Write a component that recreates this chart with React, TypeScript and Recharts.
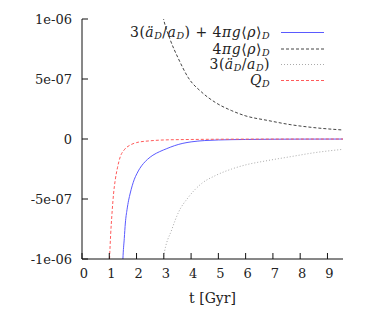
import React from 'react';
import { LineChart, Line, XAxis, YAxis, Legend } from 'recharts';

// x ticks / y ticks
const xTicks = [0, 1, 2, 3, 4, 5, 6, 7, 8, 9];
const yTicks = [-1e-6, -5e-7, 0, 5e-7, 1e-6];
const yTickLabels = ['-1e-06', '-5e-07', '0', '5e-07', '1e-06'];
const xLabel = 't [Gyr]';

// 3(ä/a) + 4πg<ρ>  (blue, solid)
const sumT = [1.47, 1.5, 1.55, 1.59, 1.65, 1.71, 1.77, 1.84, 1.92, 2.01, 2.12, 2.25, 2.4, 2.6, 2.85, 3.11, 3.4, 3.7, 4.0, 4.5, 5.0, 6.0, 7.0, 8.0, 9.57];
const sumV = [-1.2e-6, -1.0e-6, -8.3e-7, -7.0e-7, -5.9e-7, -5.1e-7, -4.5e-7, -3.9e-7, -3.35e-7, -2.9e-7, -2.45e-7, -2.05e-7, -1.7e-7, -1.35e-7, -1.05e-7, -8e-8, -5.5e-8, -3.6e-8, -2.4e-8, -1.3e-8, -8e-9, -4e-9, -2e-9, -1e-9, -5e-10];

// 4πg<ρ>  (black dashed)
const rhoT = [2.9, 2.99, 3.23, 3.54, 3.9, 4.39, 4.88, 5.49, 5.98, 6.8, 7.63, 8.5, 9.57];
const rhoV = [1.1e-6, 1.0e-6, 8.3e-7, 6.67e-7, 5.1e-7, 3.9e-7, 3.06e-7, 2.36e-7, 1.94e-7, 1.55e-7, 1.2e-7, 9.5e-8, 7.5e-8];

// 3(ä/a)  (gray dotted)
const accT = [2.93, 2.99, 3.3, 3.54, 3.9, 4.39, 4.88, 5.49, 5.98, 6.8, 7.63, 8.5, 9.57];
const accV = [-1.08e-6, -9.85e-7, -7.5e-7, -6.1e-7, -4.86e-7, -3.7e-7, -3.06e-7, -2.5e-7, -2.17e-7, -1.8e-7, -1.48e-7, -1.15e-7, -8.6e-8];

// Q  (red dashed)
const qT = [0.97, 1.01, 1.05, 1.1, 1.16, 1.22, 1.3, 1.4, 1.55, 1.77, 2.0, 2.5, 3.0, 4.0, 5.0, 6.0, 7.5, 9.57];
const qV = [-1.25e-6, -1.0e-6, -8e-7, -6.2e-7, -4.5e-7, -3.4e-7, -2.4e-7, -1.5e-7, -9e-8, -5e-8, -3e-8, -1.5e-8, -8e-9, -4e-9, -2e-9, -1e-9, -5e-10, -3e-10];

const build = (ts: number[], vs: number[]) => ts.map((t, i) => ({ t, v: vs[i] }));
const sumData = build(sumT, sumV);
const rhoData = build(rhoT, rhoV);
const accData = build(accT, accV);
const qData = build(qT, qV);

const FONT = 'DejaVu Serif';
const TXT = '#222';

const Sub = () => (
  <tspan fontStyle="italic" fontSize={9.5} dy={2}>D</tspan>
);

const LegendSvg = () => {
  const tx = 270;
  const lx1 = 281;
  const lx2 = 324;
  const rows = [32.5, 49, 64.5, 80.5];
  return (
    <svg width={374} height={100} style={{ display: 'block', fontFamily: FONT }} fontFamily={FONT} fontSize={14} letterSpacing={0.5} fill={TXT}>
      <text x={tx} y={rows[0] + 4.5} textAnchor="end">
        <tspan>3(</tspan>
        <tspan fontStyle="italic">ä</tspan>
        <Sub />
        <tspan dy={-2}>/</tspan>
        <tspan fontStyle="italic">a</tspan>
        <Sub />
        <tspan dy={-2}>) + 4</tspan>
        <tspan fontStyle="italic">πg</tspan>
        <tspan>⟨</tspan>
        <tspan fontStyle="italic">ρ</tspan>
        <tspan>⟩</tspan>
        <Sub />
      </text>
      <line x1={lx1} x2={lx2} y1={rows[0]} y2={rows[0]} stroke="#5a5aff" strokeWidth={1} />
      <text x={tx} y={rows[1] + 4.5} textAnchor="end">
        <tspan>4</tspan>
        <tspan fontStyle="italic">πg</tspan>
        <tspan>⟨</tspan>
        <tspan fontStyle="italic">ρ</tspan>
        <tspan>⟩</tspan>
        <Sub />
      </text>
      <line x1={lx1} x2={lx2} y1={rows[1]} y2={rows[1]} stroke="#444" strokeWidth={1} strokeDasharray="3 2" />
      <text x={tx} y={rows[2] + 4.5} textAnchor="end">
        <tspan>3(</tspan>
        <tspan fontStyle="italic">ä</tspan>
        <Sub />
        <tspan dy={-2}>/</tspan>
        <tspan fontStyle="italic">a</tspan>
        <Sub />
        <tspan dy={-2}>)</tspan>
      </text>
      <line x1={lx1} x2={lx2} y1={rows[2]} y2={rows[2]} stroke="#aaa" strokeWidth={1} strokeDasharray="1 2" />
      <text x={tx} y={rows[3] + 4.5} textAnchor="end">
        <tspan fontStyle="italic">Q</tspan>
        <Sub />
      </text>
      <line x1={lx1} x2={lx2} y1={rows[3]} y2={rows[3]} stroke="#ff5a5a" strokeWidth={1} strokeDasharray="3 2" />
    </svg>
  );
};

const tickStyle = { fontFamily: FONT, fontSize: 13, fill: TXT };

export default function App() {
  return (
    <div style={{ position: 'absolute', left: 0, top: 0, width: 374, height: 311, fontFamily: FONT }}>
      <LineChart width={374} height={311} margin={{ top: 19, right: 31, bottom: 0, left: 0 }} style={{ fontFamily: FONT }}>
        <XAxis
          xAxisId={0}
          dataKey="t"
          type="number"
          domain={[0, 9.57]}
          allowDataOverflow
          ticks={xTicks}
          interval={0}
          height={52}
          tickSize={-6}
          tickMargin={16}
          tick={{ ...tickStyle, dx: 2 }}
          stroke="#111"
          label={{ value: xLabel, position: 'insideBottom', offset: 8, style: { fontFamily: FONT, fontSize: 14, fill: TXT } }}
        />
        <XAxis
          xAxisId="top"
          orientation="top"
          type="number"
          domain={[0, 9.57]}
          allowDataOverflow
          ticks={xTicks}
          interval={0}
          height={0}
          tickSize={-6}
          tickFormatter={() => ''}
          stroke="#111"
        />
        <YAxis
          yAxisId={0}
          type="number"
          domain={[-1e-6, 1e-6]}
          allowDataOverflow
          ticks={yTicks}
          interval={0}
          width={82}
          tickSize={-6}
          tickMargin={16}
          tick={tickStyle}
          tickFormatter={(v: number) => {
            const i = yTicks.findIndex((y) => Math.abs(y - v) < 1e-12);
            return i >= 0 ? yTickLabels[i] : '';
          }}
          stroke="#111"
        />
        <YAxis
          yAxisId="right"
          orientation="right"
          type="number"
          domain={[-1e-6, 1e-6]}
          allowDataOverflow
          ticks={yTicks}
          interval={0}
          width={0}
          tickSize={-6}
          tickFormatter={() => ''}
          stroke="#111"
        />
        <Legend
          verticalAlign="middle"
          align="center"
          layout="horizontal"
          wrapperStyle={{ top: 0, left: 0, width: 374, height: 100 }}
          content={() => <LegendSvg />}
        />
        <Line data={rhoData} dataKey="v" name="4πg⟨ρ⟩" type="monotone" stroke="#444" strokeWidth={1} strokeDasharray="3 2" dot={false} isAnimationActive={false} />
        <Line data={accData} dataKey="v" name="3(ä/a)" type="monotone" stroke="#aaa" strokeWidth={1} strokeDasharray="1 2" dot={false} isAnimationActive={false} />
        <Line data={sumData} dataKey="v" name="3(ä/a)+4πg⟨ρ⟩" type="monotone" stroke="#5a5aff" strokeWidth={1} dot={false} isAnimationActive={false} />
        <Line data={qData} dataKey="v" name="Q" type="monotone" stroke="#ff5a5a" strokeWidth={1} strokeDasharray="3 2" dot={false} isAnimationActive={false} />
      </LineChart>
    </div>
  );
}
